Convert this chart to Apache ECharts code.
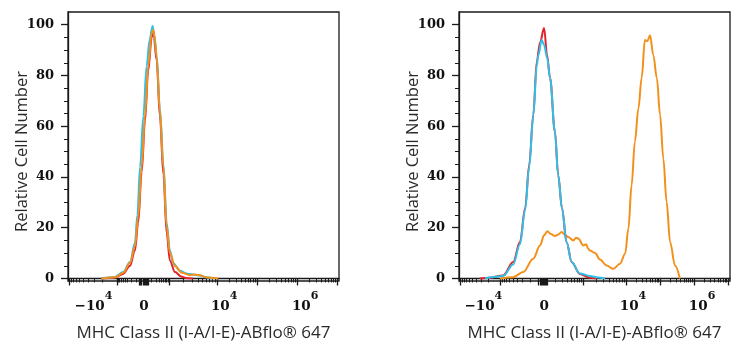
<!DOCTYPE html>
<html>
<head>
<meta charset="utf-8">
<script src="https://cdn.jsdelivr.net/npm/echarts@6/dist/echarts.min.js"></script>
<style>html,body{margin:0;padding:0;background:#fff}#c{width:745px;height:350px}</style>
</head>
<body>
<div id="c"></div>
<script>
// x values are display-channel units (0..1000 across each plot box, biexponential display)
const yTicks = [0, 20, 40, 60, 80, 100];
const yMinorTicks = [5, 10, 15, 25, 30, 35, 45, 50, 55, 65, 70, 75, 85, 90, 95];
const xTickLabels = ['−10^4', '0', '10^4', '10^6'];
const leftLabelPos = [94, 280, 576, 875];
const rightLabelPos = [90, 314, 642, 897];
const leftMajorTicks = [4, 181, 280, 373, 550, 697, 845, 993];
const rightMajorTicks = [4, 151, 310, 458, 616, 742, 867, 993];

const leftRed = [[122,0],[173,0.3],[203,1.8],[229,5],[247,11],[259,22],[272,42],[284,62],[296,82],[309,95],[315,97],[327,86],[339,64],[352,41],[364,18],[376,7],[395,2.5],[417,0.8],[435,0.2],[461,0]];
const leftCyan = [[122,0],[173,0.6],[203,2.5],[229,6.5],[247,14],[256,25],[266,44],[278,64],[290,83.6],[301,94],[312,99.5],[318,96],[327,88],[339,67],[352,45],[364,22],[376,11],[388,6],[413,3],[436,2],[461,1.6],[487,1.2],[509,0.5],[535,0]];
const leftOrange = [[124,0],[173,0.5],[204,2.3],[229,6.2],[247,12.7],[259,24.5],[272,44],[284,64],[296,83.6],[309,96.7],[315,98],[321,94],[327,87.6],[339,66.5],[352,44.2],[364,20.6],[376,10.1],[395,4.9],[420,2.3],[450,1.3],[465,1.6],[481,1.4],[512,0.4],[554,0]];

const rightRed = [[77,0],[114,0.3],[163,1.2],[200,6.5],[225,14.4],[244,27.7],[259,44.7],[274,64.4],[287,85.5],[299,93],[314,98.7],[325,88],[336,79],[354,57.8],[366,40.7],[380,27.7],[397,14.3],[416,6.4],[446,1.8],[483,0.3],[509,0]];
const rightCyan = [[96,0],[120,0.5],[163,1],[200,5.5],[225,13.5],[244,27],[259,44],[274,64],[287,84],[293,88],[305,94],[314,92],[325,87],[336,79],[354,57.8],[366,40.7],[380,27.7],[397,14.3],[416,6.4],[446,2],[483,1],[513,0.4],[539,0]];
const rightOrange = [[151,0],[199,0.5],[237,2.5],[274,7.8],[299,13],[314,17],[326,18.6],[339,17.5],[354,16.7],[365,17.2],[379,18.3],[391,17.3],[403,16.3],[422,15],[432,16],[440,15.7],[459,13],[469,13.5],[477,11.7],[483,11],[502,10],[520,7.5],[545,5.1],[569,3.8],[594,5.8],[613,9.7],[625,19.6],[637,36.8],[649,53.9],[662,67],[674,79],[686,94],[695,93.5],[705,95.8],[717,88],[730,79],[742,64.4],[754,47.3],[766,30.2],[779,14.4],[797,5.1],[815,0]];

const COLORS = { red: '#e3232b', cyan: '#2dc0e8', orange: '#f3901c' };
const AXIS_COLOR = '#1a1a1a';
const TICK_FONT = '"DejaVu Serif", serif';
const TITLE_FONT = '"Open Sans", "Noto Sans", sans-serif';

function minorTicks(majors, zeroIdx) {
  const out = [];
  for (let i = 0; i < majors.length - 1; i++) {
    const a = majors[i], b = majors[i + 1];
    for (let k = 2; k <= 9; k++) {
      const f = Math.log10(k);
      out.push(i < zeroIdx ? b - f * (b - a) : a + f * (b - a));
    }
  }
  return out;
}
function zeroCluster(majors, zeroIdx) {
  const z = majors[zeroIdx];
  return [-16, -12, -8, -4, 4, 8, 12, 16].map(d => z + d);
}

function xAxes(gi, majors, labelPos) {
  const zeroIdx = 2;
  return [
    {
      gridIndex: gi, type: 'value', min: 0, max: 1000, position: 'bottom',
      axisLine: { show: true, lineStyle: { color: AXIS_COLOR, width: 1.3 } },
      axisTick: { show: true, length: 7, customValues: majors.concat(zeroCluster(majors, zeroIdx)), lineStyle: { color: AXIS_COLOR, width: 1.3 } },
      axisLabel: {
        show: true, customValues: labelPos, margin: 9,
        formatter: function (v) {
          const t = xTickLabels[labelPos.indexOf(v)] || '';
          const p = t.split('^');
          return p.length > 1 ? '{n|' + p[0] + '}{s|' + p[1] + '}' : '{z|' + p[0] + '}';
        },
        rich: {
          n: { fontFamily: TICK_FONT, fontSize: 13.5, fontWeight: 'bold', color: '#111', height: 16, verticalAlign: 'bottom' },
          z: { fontFamily: TICK_FONT, fontSize: 13.5, fontWeight: 'bold', color: '#111', height: 16, padding: [8, 0, 0, 0], verticalAlign: 'bottom' },
          s: { fontFamily: TICK_FONT, fontSize: 11, fontWeight: 'bold', color: '#111', height: 12, padding: [0, 0, 12, 0], verticalAlign: 'top' }
        }
      },
      splitLine: { show: false },
      name: 'MHC Class II (I-A/I-E)-ABflo® 647', nameLocation: 'middle', nameGap: 44, nameMoveOverlap: false,
      nameTextStyle: { fontFamily: TITLE_FONT, fontSize: 17, color: '#2a2a2a' }
    },
    {
      gridIndex: gi, type: 'value', min: 0, max: 1000, position: 'bottom',
      axisLine: { show: false },
      axisTick: { show: true, length: 4, customValues: minorTicks(majors, zeroIdx), lineStyle: { color: AXIS_COLOR, width: 1 } },
      axisLabel: { show: false }, splitLine: { show: false }
    }
  ];
}
function yAxes(gi) {
  return [
    {
      gridIndex: gi, type: 'value', min: -1, max: 105, position: 'left',
      axisLine: { show: true, lineStyle: { color: AXIS_COLOR, width: 1.3 } },
      axisTick: { show: true, length: 7, customValues: yTicks, lineStyle: { color: AXIS_COLOR, width: 1.3 } },
      axisLabel: { show: true, customValues: yTicks, margin: 14, fontFamily: TICK_FONT, fontSize: 13, fontWeight: 'bold', color: '#111' },
      splitLine: { show: false },
      name: 'Relative Cell Number', nameLocation: 'middle', nameGap: 37, nameMoveOverlap: false,
      nameTextStyle: { fontFamily: TITLE_FONT, fontSize: 16.5, color: '#2a2a2a', padding: [0, 10, 0, 0] }
    },
    {
      gridIndex: gi, type: 'value', min: -1, max: 105, position: 'left',
      axisLine: { show: false },
      axisTick: { show: true, length: 4, customValues: yMinorTicks, lineStyle: { color: AXIS_COLOR, width: 1 } },
      axisLabel: { show: false }, splitLine: { show: false }
    }
  ];
}
function line(data, color, xi, yi) {
  return {
    type: 'line', data: data, xAxisIndex: xi, yAxisIndex: yi,
    showSymbol: false, smooth: 0.35, smoothMonotone: 'x', silent: true,
    lineStyle: { color: color, width: 2 }, z: 3
  };
}

const chart = echarts.init(document.getElementById('c'), null, { renderer: 'canvas' });
chart.setOption({
  animation: false,
  backgroundColor: '#fff',
  grid: [
    { left: 68, right: 406, top: 12, bottom: 69, show: true, borderColor: AXIS_COLOR, borderWidth: 1.3, backgroundColor: 'transparent' },
    { left: 459, right: 15, top: 12, bottom: 69, show: true, borderColor: AXIS_COLOR, borderWidth: 1.3, backgroundColor: 'transparent' }
  ],
  xAxis: xAxes(0, leftMajorTicks, leftLabelPos).concat(xAxes(1, rightMajorTicks, rightLabelPos)),
  yAxis: yAxes(0).concat(yAxes(1)),
  series: [
    line(leftRed, COLORS.red, 0, 0),
    line(leftCyan, COLORS.cyan, 0, 0),
    line(leftOrange, COLORS.orange, 0, 0),
    line(rightOrange, COLORS.orange, 2, 2),
    line(rightRed, COLORS.red, 2, 2),
    line(rightCyan, COLORS.cyan, 2, 2)
  ]
});
</script>
</body>
</html>
